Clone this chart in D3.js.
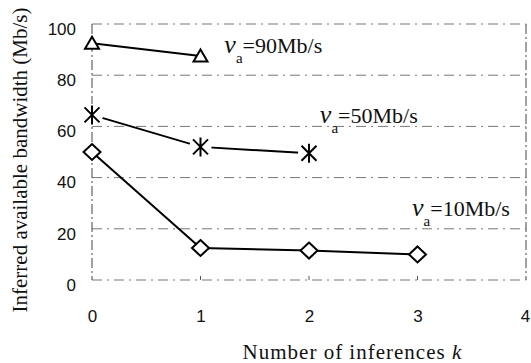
<!DOCTYPE html>
<html>
<head>
<meta charset="utf-8">
<script src="https://cdn.jsdelivr.net/npm/d3@7"></script>
<style>
  body { margin: 0; background: #fff; }
  svg { display: block; }
</style>
</head>
<body>
<div id="chart"></div>
<script>
// data
var inferences = [0, 1, 2, 3];
var xTicks = [0, 1, 2, 3, 4];
var yTicks = [0, 20, 40, 60, 80, 100];

var bw90 = [92.5, 87.5];
var bw50 = [64.5, 52, 49.5];
var bw10 = [50, 12.5, 11.5, 10];

var labelText = ["=90Mb/s", "=50Mb/s", "=10Mb/s"];

var SANS = "'Liberation Sans', Arial, sans-serif";
var SERIF = "'Liberation Serif', 'Times New Roman', serif";

var width = 531, height = 363;
var margin = {top: 24, right: 5, bottom: 83, left: 92};
var w = width - margin.left - margin.right;
var h = height - margin.top - margin.bottom;

var x = d3.scaleLinear().domain([0, 4]).range([0, w]);
var y = d3.scaleLinear().domain([0, 100]).range([h, 0]);

var svg = d3.select("#chart").append("svg")
    .attr("width", width)
    .attr("height", height);

var g = svg.append("g")
    .attr("transform", "translate(" + margin.left + "," + margin.top + ")");

// grid lines (dash-dot, like the scanned original)
g.selectAll("line.grid")
    .data(yTicks)
  .enter().append("line")
    .attr("class", "grid")
    .attr("x1", 0)
    .attr("x2", w)
    .attr("y1", function(d) { return y(d); })
    .attr("y2", function(d) { return y(d); })
    .attr("stroke", "#777")
    .attr("stroke-width", 1)
    .attr("stroke-dasharray", "10,5,2,5");

// left and right frame
g.selectAll("line.vframe")
    .data([0, 4])
  .enter().append("line")
    .attr("class", "vframe")
    .attr("x1", function(d) { return x(d); })
    .attr("x2", function(d) { return x(d); })
    .attr("y1", y(100))
    .attr("y2", y(0))
    .attr("stroke", "#444")
    .attr("stroke-width", 1)
    .attr("stroke-dasharray", "10,3,2,3");

// small ticks at bottom
g.selectAll("line.xtick")
    .data([1, 2, 3])
  .enter().append("line")
    .attr("class", "xtick")
    .attr("x1", function(d) { return x(d); })
    .attr("x2", function(d) { return x(d); })
    .attr("y1", y(0) - 4)
    .attr("y2", y(0))
    .attr("stroke", "#555");

// axes: labels only
var yAxis = d3.axisLeft(y).tickValues(yTicks).tickFormat(d3.format("d")).tickSize(0).tickPadding(16);
var yAx = g.append("g").call(yAxis)
    .attr("font-family", SANS)
    .attr("font-size", 17);
yAx.select(".domain").remove();
yAx.selectAll("text").attr("dy", "0.6em").attr("fill", "#111");

var xAxis = d3.axisBottom(x).tickValues(xTicks).tickFormat(d3.format("d")).tickSize(0).tickPadding(30);
var xAx = g.append("g").attr("transform", "translate(0," + h + ")").call(xAxis)
    .attr("font-family", SANS)
    .attr("font-size", 17);
xAx.select(".domain").remove();
xAx.selectAll("text").attr("fill", "#111")
    .attr("dx", function(d) { return d === 4 ? -1 : 0; });

var line = d3.line()
    .x(function(d, i) { return x(inferences[i]); })
    .y(function(d) { return y(d); });

var allSeries = [bw90, bw50, bw10];

g.selectAll("path.series")
    .data(allSeries)
  .enter().append("path")
    .attr("class", "series")
    .attr("d", line)
    .attr("fill", "none")
    .attr("stroke", "#000")
    .attr("stroke-width", 2);

// triangles
g.selectAll("path.tri")
    .data(bw90)
  .enter().append("path")
    .attr("class", "tri")
    .attr("transform", function(d, i) { return "translate(" + x(inferences[i]) + "," + y(d) + ")"; })
    .attr("d", "M0,-6.5 L7,5.5 L-7,5.5 Z")
    .attr("fill", "#fff")
    .attr("stroke", "#000")
    .attr("stroke-width", 2);

// asterisks
var stars = g.selectAll("g.star")
    .data(bw50)
  .enter().append("g")
    .attr("class", "star")
    .attr("transform", function(d, i) { return "translate(" + x(inferences[i]) + "," + y(d) + ")"; });
stars.append("circle").attr("r", 11).attr("fill", "#fff");
stars.append("path")
    .attr("d", "M-7.5,-7.5 L7.5,7.5 M-7.5,7.5 L7.5,-7.5 M0,-9.5 L0,9.5")
    .attr("stroke", "#000")
    .attr("stroke-width", 2)
    .attr("fill", "none");

// diamonds
g.selectAll("path.dia")
    .data(bw10)
  .enter().append("path")
    .attr("class", "dia")
    .attr("transform", function(d, i) { return "translate(" + x(inferences[i]) + "," + y(d) + ")"; })
    .attr("d", "M0,-8 L8.5,0 L0,8 L-8.5,0 Z")
    .attr("fill", "#fff")
    .attr("stroke", "#000")
    .attr("stroke-width", 2);

// series labels
var labelPos = [[1.22, 88.5], [2.1, 61.5], [2.95, 25]];
labelPos.forEach(function(p, i) {
    var t = g.append("text")
        .attr("x", x(p[0]))
        .attr("y", y(p[1]))
        .attr("font-family", SERIF)
        .attr("font-size", 22)
        .attr("fill", "#111");
    t.append("tspan").attr("font-style", "italic").attr("font-size", 26).text("v");
    t.append("tspan").attr("dy", 10).attr("font-size", 15).text("a");
    t.append("tspan").attr("dy", -10).text(labelText[i]);
});

// axis titles
svg.append("text")
    .attr("transform", "translate(27," + (margin.top + h / 2 + 8) + ") rotate(-90)")
    .attr("text-anchor", "middle")
    .attr("font-family", SERIF)
    .attr("font-size", 21)
    .attr("fill", "#111")
    .text("Inferred available bandwidth (Mb/s)");

var xt = svg.append("text")
    .attr("x", margin.left + x(2.4))
    .attr("y", 359)
    .attr("text-anchor", "middle")
    .attr("font-family", SERIF)
    .attr("font-size", 21)
    .attr("letter-spacing", 1)
    .attr("fill", "#111");
xt.append("tspan").text("Number of inferences ");
xt.append("tspan").attr("font-style", "italic").text("k");
</script>
</body>
</html>
